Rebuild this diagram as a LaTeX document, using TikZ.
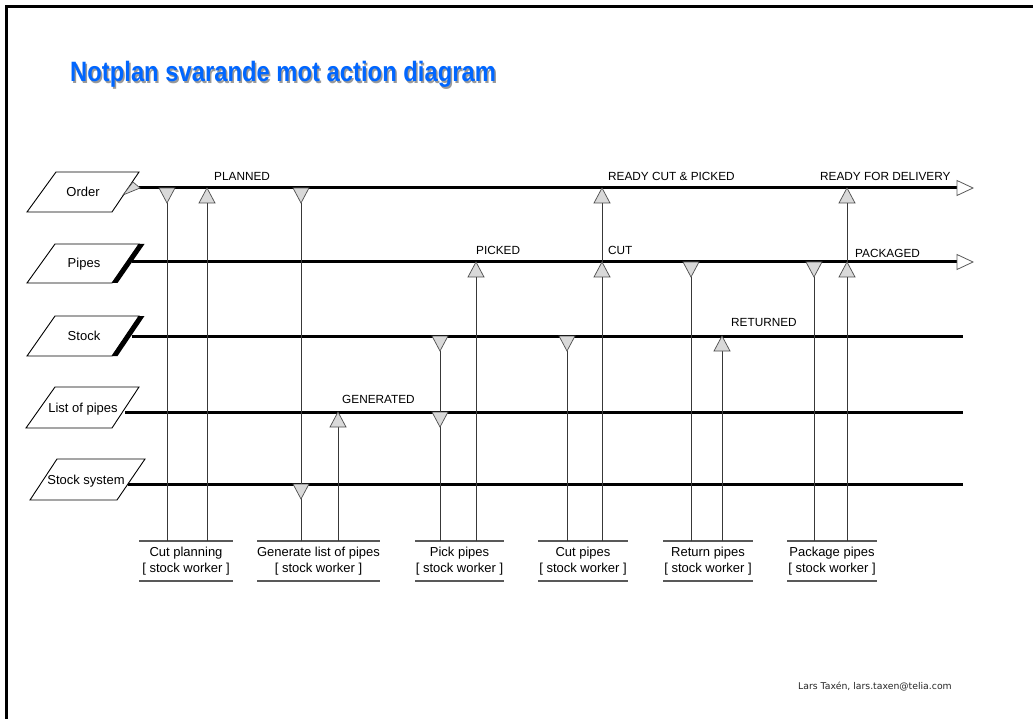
\documentclass[tikz,border=0pt]{standalone}
\usepackage{fontspec}
\setmainfont{Liberation Sans}
\newfontfamily\footfont{DejaVu Sans}
\definecolor{titleblue}{RGB}{0,102,255}
\definecolor{trifill}{RGB}{217,217,217}

% consumed state: triangle pointing down, hanging under the lane
\newcommand\trdown[3]{%
  \draw[tri] (#2-8,#3) -- (#2+8,#3) -- (#2,#3+15) -- cycle;
  \coordinate (#1) at (#2,#3+15);}
% produced state: triangle pointing up to the lane
\newcommand\trup[3]{%
  \draw[tri] (#2,#3) -- (#2+8,#3+15) -- (#2-8,#3+15) -- cycle;
  \coordinate (#1) at (#2,#3+15);}
% activity: bar, two-line label, underline
\newcommand\activity[4]{%
  \draw[bar] (#2,541) -- (#3,541);
  \node[acttext, anchor=north] (#1) at ({(#2+#3)/2},546.5) {#4\\{[} stock worker {]}};
  \draw[bar] (#2,581) -- (#3,581);}

\begin{document}
\begin{tikzpicture}[x=1pt,y=-1pt,
  flow/.style={line width=3pt, black},
  objshape/.style={draw=black, line width=0.9pt, fill=white},
  tri/.style={fill=trifill, draw=black!70, line width=0.7pt, line join=miter},
  openhead/.style={fill=white, draw=black!65, line width=0.8pt},
  link/.style={line width=1pt, black!78},
  bar/.style={line width=1.4pt, black!65},
  state/.style={font=\fontsize{11.8}{13}\selectfont, anchor=base west, inner sep=0pt},
  objtext/.style={font=\fontsize{13}{15}\selectfont, inner sep=0pt},
  acttext/.style={font=\fontsize{13}{16.5}\selectfont, align=center, inner sep=0pt},
  titletext/.style={font=\fontsize{28}{31}\selectfont\bfseries, anchor=base west, inner sep=0pt}
]
\useasboundingbox (0,0) rectangle (1033,719);

% slide frame
\draw[line width=3pt] (6.5,719) -- (6.5,6.5) -- (1033,6.5);

% title with shadow
\node[titletext, text=black!40] (titleshadow) at (71.5,83.5) {\scalebox{0.85}[1]{Notplan svarande mot action diagram}};
\node[titletext, text=titleblue] (title) at (70,82) {\scalebox{0.85}[1]{Notplan svarande mot action diagram}};

% ---- object lanes ----
% Order
\draw[objshape] (56,172) -- (139,172) -- (112,212) -- (27,212) -- cycle;
\node[objtext] (order) at (83,192) {Order};
\coordinate (order-start) at (139,188);
\coordinate (order-end) at (957,188);
\draw[flow] (order-start) -- (order-end);
\draw[tri] (123,195) -- (133,182) -- (140,188) -- cycle;
\draw[openhead] (957,180.5) -- (973,188) -- (957,195.5) -- cycle;

% Pipes
\draw[objshape] (55,244) -- (139,244) -- (112,283) -- (27,283) -- cycle;
\fill (139,244) -- (144.5,244) -- (117.5,283) -- (112,283) -- cycle;
\node[objtext] (pipes) at (84,264) {Pipes};
\coordinate (pipes-start) at (132,262);
\coordinate (pipes-end) at (957,262);
\draw[flow] (pipes-start) -- (pipes-end);
\draw[openhead] (957,254.5) -- (973,262) -- (957,269.5) -- cycle;

% Stock
\draw[objshape] (55,316) -- (139,316) -- (112,356) -- (27,356) -- cycle;
\fill (139,316) -- (144.5,316) -- (117.5,356) -- (112,356) -- cycle;
\node[objtext] (stock) at (84,336) {Stock};
\coordinate (stock-start) at (132,336);
\coordinate (stock-end) at (963,336);
\draw[flow] (stock-start) -- (stock-end);

% List of pipes
\draw[objshape] (55,387) -- (139,387) -- (112,428) -- (26,428) -- cycle;
\node[objtext] (list) at (83,409) {List of pipes};
\coordinate (list-start) at (125,412);
\coordinate (list-end) at (963,412);
\draw[flow] (list-start) -- (list-end);

% Stock system
\draw[objshape] (57,459) -- (145,459) -- (117,500) -- (30,500) -- cycle;
\node[objtext] (sys) at (86,481) {Stock system};
\coordinate (sys-start) at (128,484);
\coordinate (sys-end) at (963,484);
\draw[flow] (sys-start) -- (sys-end);

% ---- activities ----
\activity{cutplan}{139}{233}{Cut planning}
\activity{genlist}{257}{380}{Generate list of pipes}
\activity{pick}{415}{504}{Pick pipes}
\activity{cutp}{538}{628}{Cut pipes}
\activity{ret}{663}{753}{Return pipes}
\activity{pack}{787}{877}{Package pipes}

\coordinate (cutplan-in)  at (167,541);
\coordinate (cutplan-out) at (207,541);
\coordinate (genlist-in)  at (301,541);
\coordinate (genlist-out) at (338,541);
\coordinate (pick-in)     at (440,541);
\coordinate (pick-out)    at (476,541);
\coordinate (cutp-in)     at (567,541);
\coordinate (cutp-out)    at (602,541);
\coordinate (ret-in)      at (691,541);
\coordinate (ret-out)     at (722,541);
\coordinate (pack-in)     at (814,541);
\coordinate (pack-out)    at (847,541);

% state triangle anchors (drawn on top later)
\coordinate (t1) at (167,203);
\coordinate (t2) at (207,203);
\coordinate (t3) at (301,203);
\coordinate (t5) at (338,427);
\coordinate (t6) at (440,351);
\coordinate (t8) at (476,277);
\coordinate (t9) at (567,351);
\coordinate (t10) at (602,203);
\coordinate (t12) at (691,277);
\coordinate (t13) at (722,351);
\coordinate (t14) at (814,277);
\coordinate (t15) at (847,203);

% connectors between lanes and activities
\draw[link] (t1) -- (cutplan-in);
\draw[link] (cutplan-out) -- (t2);
\draw[link] (t3) -- (genlist-in);
\draw[link] (genlist-out) -- (t5);
\draw[link] (t6) -- (pick-in);
\draw[link] (pick-out) -- (t8);
\draw[link] (t9) -- (cutp-in);
\draw[link] (cutp-out) -- (t10);
\draw[link] (t12) -- (ret-in);
\draw[link] (ret-out) -- (t13);
\draw[link] (t14) -- (pack-in);
\draw[link] (pack-out) -- (t15);

% state triangles
\trdown{s1}{167}{188}
\trup{s2}{207}{188}
\trdown{s3}{301}{188}
\trdown{s4}{301}{484}
\trup{s5}{338}{412}
\trdown{s6}{440}{336}
\trdown{s7}{440}{412}
\trup{s8}{476}{262}
\trdown{s9}{567}{336}
\trup{s10}{602}{188}
\trup{s11}{602}{262}
\trdown{s12}{691}{262}
\trup{s13}{722}{336}
\trdown{s14}{814}{262}
\trup{s15}{847}{188}
\trup{s16}{847}{262}

% state names
\node[state] (planned) at (214,181) {PLANNED};
\node[state] (readycut) at (608,181) {READY CUT \& PICKED};
\node[state] (readydel) at (820,181) {READY FOR DELIVERY};
\node[state] (picked) at (476,255) {PICKED};
\node[state] (cut) at (608,255) {CUT};
\node[state] (packaged) at (855,258) {PACKAGED};
\node[state] (returned) at (731,326) {RETURNED};
\node[state] (generated) at (342,403) {GENERATED};

% footer
\node[font=\footfont\fontsize{9.3}{11}\selectfont, text=black!85, anchor=base west, inner sep=0pt] (footer) at (798,689) {Lars Taxén, lars.taxen@telia.com};
\end{tikzpicture}
\end{document}
